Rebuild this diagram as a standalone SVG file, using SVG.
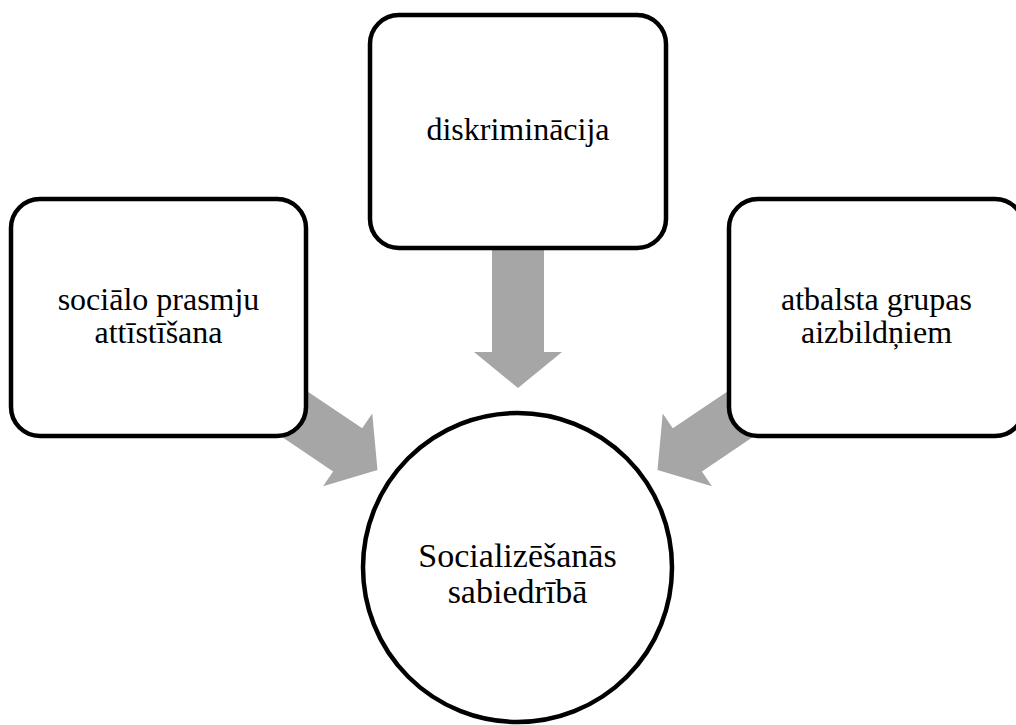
<svg xmlns="http://www.w3.org/2000/svg" width="1016" height="725" viewBox="0 0 1016 725">
  <style>
    .box { fill: #ffffff; stroke: #000000; stroke-width: 4.5; }
    .arrow { fill: #a6a6a6; stroke: none; }
    .lbl { font-family: "Liberation Serif", "Times New Roman", serif; font-size: 32px; fill: #000000; text-anchor: middle; }
    .big { font-size: 34px; }
  </style>
  <defs>
    <polygon id="arr" points="-140,-26 -36,-26 -36,-44 0,0 -36,44 -36,26 -140,26"/>
  </defs>
  <rect width="1016" height="725" fill="#ffffff"/>
  <g id="connectors">
    <use href="#arr" class="arrow" transform="translate(518,388) rotate(90)"/>
    <use href="#arr" class="arrow" transform="translate(377.5,470) rotate(34)"/>
    <use href="#arr" class="arrow" transform="translate(657.5,470) rotate(146)"/>
  </g>
  <g id="node-top">
    <rect class="box" x="370" y="15" width="296" height="233" rx="29" ry="29"/>
    <text class="lbl" x="518" y="140">diskriminācija</text>
  </g>
  <g id="node-left">
    <rect class="box" x="11" y="199" width="295" height="237" rx="29" ry="29"/>
    <text class="lbl" x="158.5" y="310">sociālo prasmju</text>
    <text class="lbl" x="158.5" y="343">attīstīšana</text>
  </g>
  <g id="node-right">
    <rect class="box" x="729" y="199" width="295" height="237" rx="29" ry="29"/>
    <text class="lbl" x="876.5" y="310">atbalsta grupas</text>
    <text class="lbl" x="876.5" y="343">aizbildņiem</text>
  </g>
  <g id="node-center">
    <circle class="box" cx="517.5" cy="567.5" r="154.5"/>
    <text class="lbl big" x="517.5" y="567">Socializēšanās</text>
    <text class="lbl big" x="517.5" y="603">sabiedrībā</text>
  </g>
</svg>
